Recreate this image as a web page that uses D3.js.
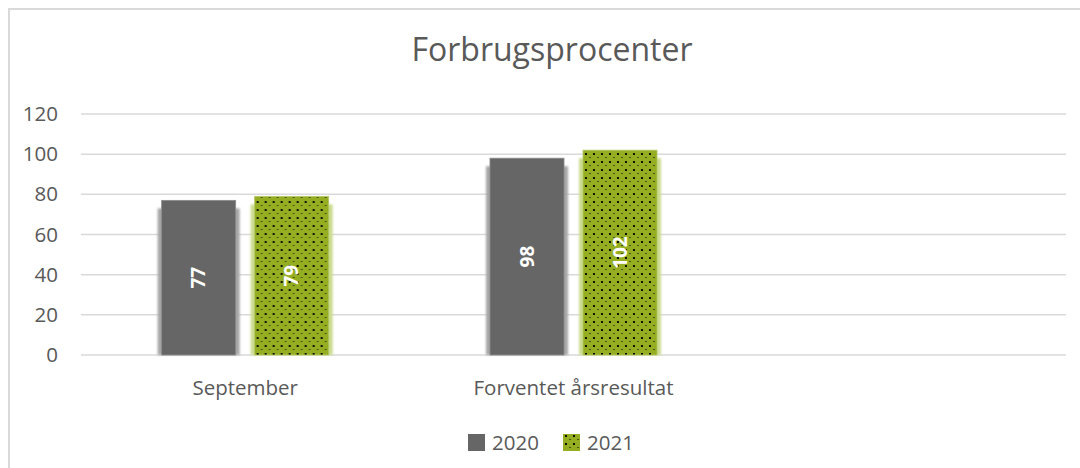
<!DOCTYPE html>
<html>
<head>
<meta charset="utf-8">
<script src="https://cdn.jsdelivr.net/npm/d3@7"></script>
<style>
  body { margin: 0; background: #fff; }
  svg { display: block; font-family: "Open Sans", sans-serif; }
</style>
</head>
<body>
<div id="vis"></div>
<script>
const WIDTH = 1080;
const HEIGHT = 468;

// chart data
const categories = ["September", "Forventet årsresultat", ""];
const seriesNames = ["2020", "2021"];
const values2020 = [77, 98, null];
const values2021 = [79, 102, null];
const yTicks = [0, 20, 40, 60, 80, 100, 120];

const TEXT = "#595959";
const GRID = "#d9d9d9";
const GREY = "#666666";
const GREEN = "#95ad20";

// plot area
const plot = { left: 81, right: 1066, top: 114, bottom: 355 };

const svg = d3.select("#vis").append("svg")
	.attr("width", WIDTH)
	.attr("height", HEIGHT);

const defs = svg.append("defs");

// dotted fill for 2021
const pat = defs.append("pattern")
	.attr("id", "dots")
	.attr("patternUnits", "userSpaceOnUse")
	.attr("width", 8)
	.attr("height", 8);
pat.append("rect").attr("width", 8).attr("height", 8).attr("fill", GREEN);
pat.append("rect").attr("x", 2).attr("y", 1).attr("width", 2).attr("height", 2).attr("fill", "#0d0f02");
pat.append("rect").attr("x", 6).attr("y", 5).attr("width", 2).attr("height", 1).attr("fill", "#4a5514");

// soft shadow filter
const blur = defs.append("filter").attr("id", "soft")
	.attr("x", "-20%").attr("y", "-20%").attr("width", "140%").attr("height", "140%");
blur.append("feGaussianBlur").attr("stdDeviation", 1.2);

// chart border (right and bottom edges fall outside the picture)
svg.append("rect")
	.attr("x", 9).attr("y", 9)
	.attr("width", WIDTH + 10).attr("height", HEIGHT + 10)
	.attr("fill", "none")
	.attr("stroke", GRID)
	.attr("stroke-width", 2);

// title
svg.append("text")
	.attr("x", 552).attr("y", 61)
	.attr("text-anchor", "middle")
	.attr("fill", TEXT)
	.style("font-size", "32px")
	.text("Forbrugsprocenter");

// scales
const x0 = d3.scaleBand()
	.domain(categories)
	.range([plot.left, plot.right]);

const x1 = d3.scaleBand()
	.domain(seriesNames)
	.range([0, x0.bandwidth()])
	.paddingInner(0.204)
	.paddingOuter(0.867);

const y = d3.scaleLinear()
	.domain([0, 120])
	.range([plot.bottom, plot.top]);

// gridlines
svg.append("g").selectAll("line")
	.data(yTicks)
	.join("line")
	.attr("x1", plot.left).attr("x2", plot.right)
	.attr("y1", d => y(d)).attr("y2", d => y(d))
	.attr("stroke", GRID)
	.attr("stroke-width", 1.5);

// y axis labels
const yAxis = svg.append("g")
	.attr("transform", `translate(${plot.left - 10},0)`)
	.call(d3.axisLeft(y).tickValues(yTicks).tickSize(0).tickPadding(13));
yAxis.select(".domain").remove();
yAxis.selectAll("text")
	.attr("fill", TEXT)
	.style("font-size", "20.5px")
	.style("font-family", "'Open Sans', sans-serif");

// x axis labels
const xAxis = svg.append("g")
	.attr("transform", `translate(0,${plot.bottom})`)
	.call(d3.axisBottom(x0).tickSize(0).tickPadding(25));
xAxis.select(".domain").remove();
xAxis.selectAll("text")
	.attr("fill", TEXT)
	.style("font-size", "20.5px")
	.style("font-family", "'Open Sans', sans-serif");

// bars
const rows = [];
categories.forEach((c, i) => {
	if (values2020[i] != null) rows.push({ cat: c, s: "2020", v: values2020[i] });
	if (values2021[i] != null) rows.push({ cat: c, s: "2021", v: values2021[i] });
});

const bars = svg.append("g").selectAll("g")
	.data(rows)
	.join("g")
	.attr("transform", d => `translate(${x0(d.cat) + x1(d.s)},0)`);

// shadow behind each bar
bars.append("rect")
	.attr("x", -4)
	.attr("y", d => y(d.v) + 8)
	.attr("width", x1.bandwidth() + 8)
	.attr("height", d => plot.bottom - y(d.v) - 8)
	.attr("fill", d => d.s === "2020" ? "#a6a6a6" : "#cbdb8e")
	.attr("filter", "url(#soft)");

bars.append("rect")
	.attr("y", d => y(d.v))
	.attr("width", x1.bandwidth())
	.attr("height", d => plot.bottom - y(d.v))
	.attr("fill", d => d.s === "2020" ? GREY : "url(#dots)")
	.attr("stroke", d => d.s === "2020" ? "#8c8c8c" : "#b5c96a")
	.attr("stroke-width", 0.8);

// value labels, rotated
bars.append("text")
	.attr("transform", d => `translate(${x1.bandwidth() / 2},${(y(d.v) + plot.bottom) / 2}) rotate(-90)`)
	.attr("text-anchor", "middle")
	.attr("dy", "0.35em")
	.attr("fill", "#fff")
	.style("font-size", "19px")
	.style("font-weight", "bold")
	.text(d => d.v);

// legend
const legend = svg.append("g").selectAll("g")
	.data(seriesNames)
	.join("g")
	.attr("transform", (d, i) => `translate(${468 + i * 95},434)`);

legend.append("rect")
	.attr("width", 17).attr("height", 17)
	.attr("fill", d => d === "2020" ? GREY : "url(#dots)");

legend.append("text")
	.attr("x", 24).attr("y", 9)
	.attr("dy", "0.35em")
	.attr("fill", TEXT)
	.style("font-size", "20.5px")
	.text(d => d);
</script>
</body>
</html>
